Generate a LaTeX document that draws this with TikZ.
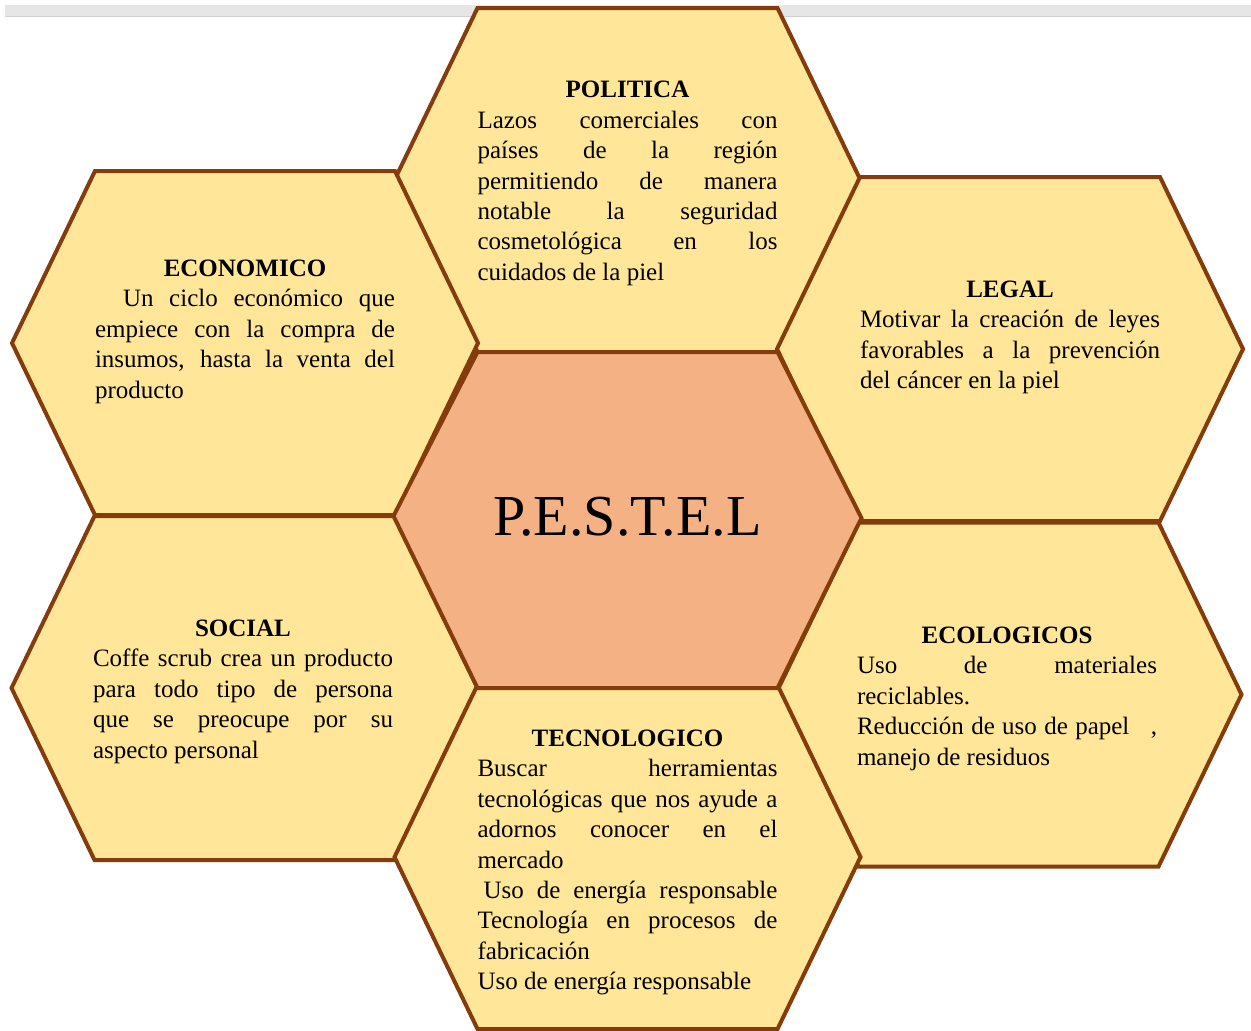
\documentclass[tikz,border=0pt]{standalone}
\usepackage{fontspec}
\setmainfont{Liberation Serif}
\usepackage{tikz}

\definecolor{hexfill}{HTML}{FFE699}
\definecolor{hexcore}{HTML}{F4B183}
\definecolor{hexline}{HTML}{843C0C}
\definecolor{topbar}{HTML}{E6E6E6}
\definecolor{topbarline}{HTML}{D0D0D0}

\begin{document}
\begin{tikzpicture}[x=0.5pt, y=-0.5pt,
    hexa/.style={draw=hexline, line width=2pt, line join=miter, fill=hexfill},
    factor/.style={anchor=north, inner sep=0pt, text width=150pt, align=justify,
      font=\fontsize{12.5pt}{15.2pt}\selectfont,
      execute at begin node={\setlength{\parindent}{0pt}\setlength{\parskip}{0pt}}}]
        \useasboundingbox (0,0) rectangle (1251,1030);

        % Grey strip along the top of the page
        \fill[topbar] (5,5) rectangle (1251,16);
        \draw[topbarline, line width=0.6pt] (5,16.5) -- (1251,16.5);

        % Centres of the seven hexagons
        \coordinate (cPol) at (627.5,180);
        \coordinate (cEco) at (245,343);
        \coordinate (cLeg) at (1010,349);
        \coordinate (cSoc) at (244.5,688);
        \coordinate (cEcl) at (1008.5,694.5);
        \coordinate (cTec) at (627.5,857);
        \coordinate (cMid) at (627.5,520);

        % The six outer hexagons
        \draw[hexa, shift={(cPol)}] (-150,-172) -- (150,-172) -- (233,0) -- (150,172) -- (-150,172) -- (-233,0) -- cycle;
        \draw[hexa, shift={(cEco)}] (-150,-172) -- (150,-172) -- (233,0) -- (150,172) -- (-150,172) -- (-233,0) -- cycle;
        \draw[hexa, shift={(cLeg)}] (-150,-172) -- (150,-172) -- (233,0) -- (150,172) -- (-150,172) -- (-233,0) -- cycle;
        \draw[hexa, shift={(cSoc)}] (-150,-172) -- (150,-172) -- (233,0) -- (150,172) -- (-150,172) -- (-233,0) -- cycle;
        \draw[hexa, shift={(cEcl)}] (-150,-172) -- (150,-172) -- (233,0) -- (150,172) -- (-150,172) -- (-233,0) -- cycle;
        \draw[hexa, shift={(cTec)}] (-150,-172) -- (150,-172) -- (233,0) -- (150,172) -- (-150,172) -- (-233,0) -- cycle;

        % The central hexagon, in a darker orange
        \draw[hexa, fill=hexcore, shift={(cMid)}] (-150,-168) -- (150,-168) -- (234,-2) -- (150,168) -- (-150,168) -- (-234,-4) -- cycle;
        \node (pestel) at (627.5,517) {\fontsize{29pt}{34pt}\selectfont P.E.S.T.E.L};

        % Texts of the factors
        \node[factor] (politica) at (627.5,81) {\centerline{\textbf{POLITICA}}
          Lazos comerciales con\linebreak países de la región\linebreak permitiendo de manera\linebreak
          notable la seguridad\linebreak cosmetológica en los\linebreak cuidados de la piel};

        \node[factor] (economico) at (245,259.5) {\centerline{\textbf{ECONOMICO}}
          \hspace*{14pt}Un ciclo económico que\linebreak empiece con la compra de\linebreak
          insumos, hasta la venta del\linebreak producto};

        \node[factor] (legal) at (1010,280.5) {\centerline{\textbf{LEGAL}}
          Motivar la creación de leyes\linebreak favorables a la prevención\linebreak del cáncer en la piel};

        \node[factor] (social) at (243,619.5) {\centerline{\textbf{SOCIAL}}
          Coffe scrub crea un producto\linebreak para todo tipo de persona\linebreak
          que se preocupe por su\linebreak aspecto personal};

        \node[factor] (ecologicos) at (1007,626.5) {\centerline{\textbf{ECOLOGICOS}}
          Uso de materiales\linebreak reciclables.\par
          Reducción de uso de papel\hspace{7pt} ,\linebreak manejo de residuos};

        \node[factor] (tecnologico) at (627.5,729.5) {\centerline{\textbf{TECNOLOGICO}}
          Buscar herramientas\linebreak tecnológicas que nos ayude a\linebreak adornos conocer en el\linebreak
          mercado\par
          \hspace*{3pt}Uso de energía responsable\linebreak Tecnología en procesos de\linebreak
          fabricación\par
          Uso de energía responsable};

    \end{tikzpicture}
\end{document}
